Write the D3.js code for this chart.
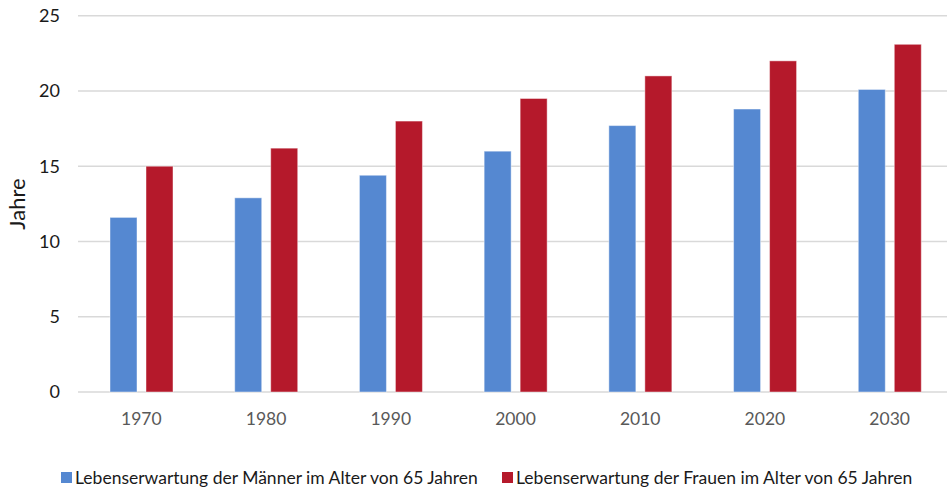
<!DOCTYPE html>
<html lang="de">
<head>
<meta charset="UTF-8">
<title>Lebenserwartung im Alter von 65 Jahren</title>
<script src="https://d3js.org/d3.v7.min.js"></script>
<style>
    body { margin: 0; background: #fff; }
    svg { display: block; font-family: 'Lato', 'Open Sans', sans-serif; }
</style>
</head>
<body>
<div id="chart"></div>
<script>
    // Data
    const years = ["1970", "1980", "1990", "2000", "2010", "2020", "2030"];
    const seriesNames = [
        "Lebenserwartung der Männer im Alter von 65 Jahren",
        "Lebenserwartung der Frauen im Alter von 65 Jahren"
    ];
    const maenner = [11.6, 12.9, 14.4, 16.0, 17.7, 18.8, 20.1];
    const frauen = [15.0, 16.2, 18.0, 19.5, 21.0, 22.0, 23.1];
    const yTicks = [0, 5, 10, 15, 20, 25];
    const colors = ["#5588D1", "#B5192B"];

    const width = 947, height = 487;
    const plot = { left: 79, right: 952, top: 15.7, bottom: 392 };

    const svg = d3.select("#chart").append("svg")
        .attr("width", width)
        .attr("height", height);

    const x0 = d3.scaleBand().domain(years).range([plot.left, plot.right]).padding(0);
    const x1 = d3.scaleBand().domain([0, 1])
        .range([31, 94])
        .paddingInner(0.25);
    const y = d3.scaleLinear().domain([0, 25]).range([plot.bottom, plot.top]);

    // gridlines
    svg.append("g")
        .selectAll("line")
        .data(yTicks)
        .join("line")
        .attr("x1", plot.left - 1)
        .attr("x2", width)
        .attr("y1", d => y(d))
        .attr("y2", d => y(d))
        .attr("stroke", "#d9d9d9")
        .attr("stroke-width", 1.5);

    // y tick labels
    svg.append("g")
        .selectAll("text")
        .data(yTicks)
        .join("text")
        .attr("x", 60)
        .attr("y", d => y(d))
        .attr("dy", "0.36em")
        .attr("text-anchor", "end")
        .attr("font-size", 18)
        .attr("fill", "#1a1a1a")
        .text(d => d);

    // y axis title
    svg.append("text")
        .attr("transform", "translate(25, 204) rotate(-90)")
        .attr("text-anchor", "middle")
        .attr("font-size", 22)
        .attr("fill", "#1a1a1a")
        .text("Jahre");

    // bars
    const rows = years.map((yr, i) => ({ year: yr, values: [maenner[i], frauen[i]] }));
    const groups = svg.append("g")
        .selectAll("g")
        .data(rows)
        .join("g")
        .attr("transform", d => `translate(${x0(d.year)},0)`);

    groups.selectAll("rect")
        .data(d => d.values.map((v, k) => ({ k, v })))
        .join("rect")
        .attr("x", d => x1(d.k))
        .attr("width", x1.bandwidth())
        .attr("y", d => y(d.v))
        .attr("height", d => y(0) - y(d.v))
        .attr("fill", d => colors[d.k])
        .attr("stroke", "rgba(255,255,255,0.45)")
        .attr("stroke-width", 1);

    // x labels
    svg.append("g")
        .selectAll("text")
        .data(years)
        .join("text")
        .attr("x", d => x0(d) + x0.bandwidth() / 2)
        .attr("y", 425)
        .attr("text-anchor", "middle")
        .attr("font-size", 17.5)
        .attr("fill", "#595959")
        .text(d => d);

    // legend
    const legendX = [61, 502];
    const legend = svg.append("g")
        .selectAll("g")
        .data(seriesNames)
        .join("g")
        .attr("transform", (d, i) => `translate(${legendX[i]}, 472)`);

    legend.append("rect")
        .attr("width", 11)
        .attr("height", 11)
        .attr("fill", (d, i) => colors[i]);

    legend.append("text")
        .attr("x", 14)
        .attr("y", 12)
        .attr("font-size", 17.5)
        .attr("fill", "#1a1a1a")
        .text(d => d);
</script>
</body>
</html>
